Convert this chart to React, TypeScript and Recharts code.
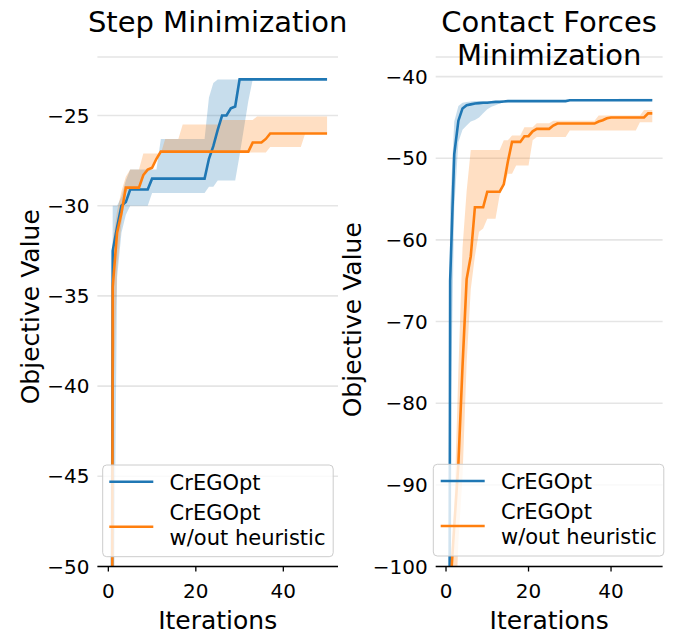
import React from 'react';
import { ComposedChart, Line, Area, XAxis, YAxis, CartesianGrid } from 'recharts';

const iterations = [
  0, 1, 2, 3, 4, 5, 6, 7, 8, 9, 10, 11, 12, 13, 14, 15, 16, 17, 18, 19, 20, 21, 22, 23, 24, 25,
  26, 27, 28, 29, 30, 31, 32, 33, 34, 35, 36, 37, 38, 39, 40, 41, 42, 43, 44, 45, 46, 47, 48, 49, 50,
];

// ---- Step Minimization ----
const stepBlueMean = [
  -150, -32.5, -31.2, -30.0, -29.8, -29.1, -29.1, -29.1, -29.1, -29.1, -28.5,
  -28.5, -28.5, -28.5, -28.5, -28.5, -28.5, -28.5, -28.5, -28.5, -28.5, -28.5, -28.5,
  -27.4, -26.7, -25.8, -25.0, -25.0, -24.6, -24.5,
  -23.0, -23.0, -23.0, -23.0, -23.0, -23.0, -23.0, -23.0, -23.0, -23.0, -23.0,
  -23.0, -23.0, -23.0, -23.0, -23.0, -23.0, -23.0, -23.0, -23.0, -23.0,
];
const stepBlueLo = [
  -250, -60, -34, -31.5, -30.5, -30.0, -30.0, -30.0, -30.0, -30.0,
  -29.3, -29.3, -29.3, -29.3, -29.3, -29.3, -29.3, -29.3, -29.3, -29.3, -29.3, -29.3, -29.3,
  -28.95, -28.95, -28.6, -28.6, -28.6, -28.6, -28.6,
  -27.2, -25.7, -24.2,
  -23.0, -23.0, -23.0, -23.0, -23.0, -23.0, -23.0, -23.0, -23.0, -23.0, -23.0, -23.0, -23.0, -23.0, -23.0, -23.0, -23.0, -23.0,
];
const stepBlueHi = [
  -100, -30.0, -30.0, -29.5, -28.6, -28.0, -28.0, -28.0, -28.0, -28.0, -28.0, -28.0,
  -26.3, -26.3, -26.3, -26.3, -26.3, -26.3, -26.3, -26.3, -26.3, -26.3, -26.3,
  -24.0, -23.2,
  -23.0, -23.0, -23.0, -23.0, -23.0, -23.0, -23.0, -23.0, -23.0, -23.0, -23.0, -23.0, -23.0,
  -23.0, -23.0, -23.0, -23.0, -23.0, -23.0, -23.0, -23.0, -23.0, -23.0, -23.0, -23.0, -23.0,
];
const stepOrangeMean = [
  -200, -34.5, -31.5, -30.4, -29.0, -29.0, -29.0, -29.0, -28.3, -28.0, -27.9, -27.4,
  -27.0, -27.0, -27.0, -27.0, -27.0, -27.0, -27.0, -27.0, -27.0, -27.0, -27.0,
  -27.0, -27.0, -27.0, -27.0, -27.0, -27.0, -27.0, -27.0, -27.0, -27.0,
  -26.5, -26.5, -26.5, -26.3,
  -26.0, -26.0, -26.0, -26.0, -26.0, -26.0, -26.0, -26.0, -26.0, -26.0, -26.0, -26.0, -26.0, -26.0,
];
const stepOrangeLo = [
  -300, -42, -33.5, -31, -29.3, -29.0, -29.0, -29.0, -28.4, -28.1, -28.0, -27.5,
  -27.05, -27.05, -27.05, -27.05, -27.05, -27.05, -27.05, -27.05, -27.05, -27.05, -27.05, -27.05, -27.05,
  -27.05, -27.05, -27.05, -27.05, -27.05, -27.05, -27.05, -27.05, -27.05, -27.05, -27.05, -27.05,
  -26.75, -26.75, -26.75, -26.75, -26.75, -26.75, -26.75, -26.75,
  -26.0, -26.0, -26.0, -26.0, -26.0, -26.0,
];
const stepOrangeHi = [
  -150, -32.0, -30.3, -29.2, -28.4, -28.0, -28.0, -28.0,
  -27.1, -27.1, -27.1, -27.1, -27.1,
  -26.3, -26.3, -26.3, -26.3,
  -25.5, -25.5, -25.5, -25.5, -25.5, -25.5, -25.5, -25.5, -25.5,
  -25.25, -25.25, -25.25, -25.25, -25.25, -25.25, -25.25, -25.25,
  -25.05, -25.05, -25.05, -25.05, -25.05, -25.05, -25.05, -25.05, -25.05,
  -25.05, -25.05, -25.05, -25.05, -25.05, -25.05, -25.05, -25.05,
];

// ---- Contact Forces Minimization ----
const cfBlueMean = [
  -400, -65, -49.5, -45.4, -43.9, -43.5, -43.4, -43.3, -43.25, -43.2, -43.2, -43.15, -43.1, -43.1, -43.05,
  -43.0, -43.0, -43.0, -43.0, -43.0, -43.0, -43.0, -43.0, -43.0, -43.0, -43.0, -43.0, -43.0, -43.0, -43.0,
  -42.9, -42.9, -42.9, -42.9, -42.9, -42.9, -42.9, -42.9, -42.9, -42.9, -42.9,
  -42.9, -42.9, -42.9, -42.9, -42.9, -42.9, -42.9, -42.9, -42.9, -42.9,
];
const cfBlueLo = [
  -600, -85, -56, -48, -46.5, -46.0, -45.5, -45.3, -45.0, -44.5, -44.0, -43.7, -43.5, -43.3, -43.1,
  -43.0, -43.0, -43.0, -43.0, -43.0, -43.0, -43.0, -43.0, -43.0, -43.0, -43.0, -43.0, -43.0, -43.0, -43.0,
  -42.9, -42.9, -42.9, -42.9, -42.9, -42.9, -42.9, -42.9, -42.9, -42.9, -42.9,
  -42.9, -42.9, -42.9, -42.9, -42.9, -42.9, -42.9, -42.9, -42.9, -42.9,
];
const cfBlueHi = [
  -150, -56, -45.5, -43.6, -43.2, -43.1, -43.05,
  -43.0, -43.0, -43.0, -43.0, -43.0, -43.0, -43.0, -43.0,
  -42.95, -42.95, -42.95, -42.95, -42.95, -42.95, -42.95, -42.95, -42.95, -42.95, -42.95, -42.95, -42.95, -42.95, -42.95,
  -42.85, -42.85, -42.85, -42.85, -42.85, -42.85, -42.85, -42.85, -42.85, -42.85, -42.85, -42.85,
  -42.7, -42.7, -42.7, -42.7, -42.7, -42.7, -42.7, -42.7, -42.7,
];
const cfOrangeMean = [
  -400, -103, -95, -87.4, -75.5, -64.8, -62.0, -56.0, -56.0, -56.0, -54.1, -54.1, -54.1, -54.1,
  -53.2, -50.4, -48.0, -48.0, -48.0, -47.3, -47.3, -46.7,
  -46.4, -46.4, -46.4, -46.4, -46.0,
  -45.75, -45.75, -45.75, -45.75, -45.75, -45.75, -45.75, -45.75, -45.75, -45.75,
  -45.5, -45.35, -45.1,
  -45.0, -45.0, -45.0, -45.0, -45.0, -45.0, -45.0, -45.0, -45.0,
  -44.5, -44.5,
];
const cfOrangeLo = [
  -600, -130, -110, -97, -89, -75, -66, -62, -59, -58.6,
  -57.4, -57.4, -57.4, -54.5, -53.3, -51.9, -51.9, -50.9, -50.9, -50.9, -50.9, -47.8,
  -47.4, -47.4, -47.4, -47.4, -47.4, -47.4, -47.4, -47.4,
  -46.6, -46.6, -46.6, -46.6, -46.6, -46.6, -46.6, -46.6, -46.6, -46.6, -46.6, -46.6, -46.6, -46.6, -46.6, -46.6, -46.6,
  -45.6, -45.6, -45.6, -45.6,
];
const cfOrangeHi = [
  -300, -101, -93, -76, -61, -54,
  -49.0, -49.0, -49.0, -49.0, -49.0, -49.0, -49.0, -49.0,
  -47.8, -47.8, -47.2, -47.2, -47.2, -46.2, -46.2, -46.2,
  -45.7, -45.7, -45.7, -45.7,
  -45.4, -45.4, -45.4, -45.4, -45.4, -45.4, -45.4, -45.4, -45.4, -45.4, -45.4,
  -44.75, -44.75, -44.75, -44.75, -44.75, -44.75, -44.75, -44.75, -44.75, -44.75, -44.75,
  -44.1, -44.1, -44.1,
];

const xTicks = [0, 20, 40];
const stepYTicks = [-50, -45, -40, -35, -30, -25];
const cfYTicks = [-100, -90, -80, -70, -60, -50, -40];
const seriesNames = ['CrEGOpt', 'CrEGOpt', 'w/out heuristic'];

const FONT = "'DejaVu Sans', sans-serif";
const BLUE = '#1f77b4';
const ORANGE = '#ff7f0e';

function build(bm: number[], bl: number[], bh: number[], om: number[], ol: number[], oh: number[]) {
  return iterations.map((it, k) => ({
    it,
    blue: bm[k],
    blueBand: [bl[k], bh[k]],
    orange: om[k],
    orangeBand: [ol[k], oh[k]],
  }));
}

const stepData = build(stepBlueMean, stepBlueLo, stepBlueHi, stepOrangeMean, stepOrangeLo, stepOrangeHi);
const cfData = build(cfBlueMean, cfBlueLo, cfBlueHi, cfOrangeMean, cfOrangeLo, cfOrangeHi);

const fmt = (v: number) => (v < 0 ? '\u2212' + Math.abs(v) : String(v));

const PLOT_TOP = 57;
const PLOT_BOTTOM = 566.5;
const H = 633;

function Panel(props: {
  data: any[];
  left: number;
  width: number;
  yDomain: [number, number];
  yTicks: number[];
  yAxisWidth: number;
  marginRight: number;
}) {
  const { data, left, width, yDomain, yTicks, yAxisWidth, marginRight } = props;
  return (
    <div style={{ position: 'absolute', left, top: 0 }}>
      <ComposedChart
        width={width}
        height={H}
        data={data}
        margin={{ top: PLOT_TOP, right: marginRight, bottom: 0, left: 0 }}
      >
        <CartesianGrid horizontal vertical={false} stroke="#e5e5e5" strokeWidth={1.6} />
        <XAxis
          dataKey="it"
          type="number"
          domain={[-2.5, 52.5]}
          ticks={xTicks}
          interval={0}
          height={H - PLOT_BOTTOM}
          axisLine={{ stroke: '#000', strokeWidth: 1.5 }}
          tickLine={{ stroke: '#000', strokeWidth: 1.3 }}
          tickSize={5}
          tickMargin={12}
          tick={{ fill: '#000', fontSize: 20, fontFamily: FONT }}
        />
        <YAxis
          type="number"
          domain={yDomain}
          ticks={yTicks}
          interval={0}
          allowDataOverflow
          width={yAxisWidth}
          axisLine={false}
          tickLine={false}
          tickSize={0}
          tickMargin={8}
          tickFormatter={fmt}
          tick={{ fill: '#000', fontSize: 20, fontFamily: FONT }}
        />
        <Area
          dataKey="blueBand"
          type="linear"
          stroke="none"
          fill={BLUE}
          fillOpacity={0.25}
          dot={false}
          activeDot={false}
          isAnimationActive={false}
        />
        <Area
          dataKey="orangeBand"
          type="linear"
          stroke="none"
          fill={ORANGE}
          fillOpacity={0.25}
          dot={false}
          activeDot={false}
          isAnimationActive={false}
        />
        <Line
          dataKey="blue"
          type="linear"
          stroke={BLUE}
          strokeWidth={2.6}
          dot={false}
          activeDot={false}
          isAnimationActive={false}
        />
        <Line
          dataKey="orange"
          type="linear"
          stroke={ORANGE}
          strokeWidth={2.6}
          dot={false}
          activeDot={false}
          isAnimationActive={false}
        />
      </ComposedChart>
    </div>
  );
}

function LegendBox({ x, y, lineX }: { x: number; y: number; lineX: number }) {
  const textX = lineX + 60.3;
  return (
    <g>
      <rect x={x} y={y} width={230.5} height={91.7} rx={4} ry={4} fill="#fff" fillOpacity={0.8} stroke="#cccccc" strokeWidth={1} />
      <line x1={lineX} x2={lineX + 44} y1={y + 16.7} y2={y + 16.7} stroke={BLUE} strokeWidth={2.6} />
      <line x1={lineX} x2={lineX + 44} y1={y + 61.7} y2={y + 61.7} stroke={ORANGE} strokeWidth={2.6} />
      <text x={textX} y={y + 17.5} fontSize={21} fontFamily={FONT} fill="#000" dominantBaseline="central">
        {seriesNames[0]}
      </text>
      <text x={textX} y={y + 47.5} fontSize={21} fontFamily={FONT} fill="#000" dominantBaseline="central">
        {seriesNames[1]}
      </text>
      <text x={textX} y={y + 73} fontSize={21} fontFamily={FONT} fill="#000" dominantBaseline="central">
        {seriesNames[2]}
      </text>
    </g>
  );
}

export default function App() {
  const leftPlotL = 97.4;
  const leftPlotR = 338;
  const rightPlotL = 435.7;
  const rightPlotR = 662.6;
  const plotH = PLOT_BOTTOM - PLOT_TOP;
  const stepTop = -50 + plotH / 18.04;
  const cfTop = -100 + plotH / 8.165;
  const leftLabelY = 306.75;
  const rightLabelY = 319.75;
  const lc = (leftPlotL + leftPlotR) / 2;
  const rc = (rightPlotL + rightPlotR) / 2;
  return (
    <div style={{ position: 'absolute', left: 0, top: 0, width: 673, height: H, background: '#fff', overflow: 'hidden' }}>
      <Panel
        data={stepData}
        left={0}
        width={345}
        yDomain={[-50, stepTop]}
        yTicks={stepYTicks}
        yAxisWidth={leftPlotL}
        marginRight={345 - leftPlotR}
      />
      <Panel
        data={cfData}
        left={345}
        width={328}
        yDomain={[-100, cfTop]}
        yTicks={cfYTicks}
        yAxisWidth={rightPlotL - 345}
        marginRight={673 - rightPlotR}
      />
      <svg
        width={673}
        height={H}
        style={{ position: 'absolute', left: 0, top: 0, pointerEvents: 'none' }}
      >
        <text x={lc} y={22} textAnchor="middle" dominantBaseline="central" fontSize={29} fontFamily={FONT} fill="#000">
          Step Minimization
        </text>
        <text x={rc} y={22} textAnchor="middle" dominantBaseline="central" fontSize={29} fontFamily={FONT} fill="#000">
          Contact Forces
        </text>
        <text x={rc} y={55} textAnchor="middle" dominantBaseline="central" fontSize={29} fontFamily={FONT} fill="#000">
          Minimization
        </text>
        <text x={lc} y={620} textAnchor="middle" dominantBaseline="central" fontSize={25} fontFamily={FONT} fill="#000">
          Iterations
        </text>
        <text x={rc} y={620} textAnchor="middle" dominantBaseline="central" fontSize={25} fontFamily={FONT} fill="#000">
          Iterations
        </text>
        <text
          x={30}
          y={leftLabelY}
          transform={`rotate(-90 30 ${leftLabelY})`}
          textAnchor="middle"
          dominantBaseline="central"
          fontSize={25}
          fontFamily={FONT}
          fill="#000"
        >
          Objective Value
        </text>
        <text
          x={352}
          y={rightLabelY}
          transform={`rotate(-90 352 ${rightLabelY})`}
          textAnchor="middle"
          dominantBaseline="central"
          fontSize={25}
          fontFamily={FONT}
          fill="#000"
        >
          Objective Value
        </text>
        <LegendBox x={102.7} y={465} lineX={109.3} />
        <LegendBox x={433.3} y={464.3} lineX={440.7} />
      </svg>
    </div>
  );
}
